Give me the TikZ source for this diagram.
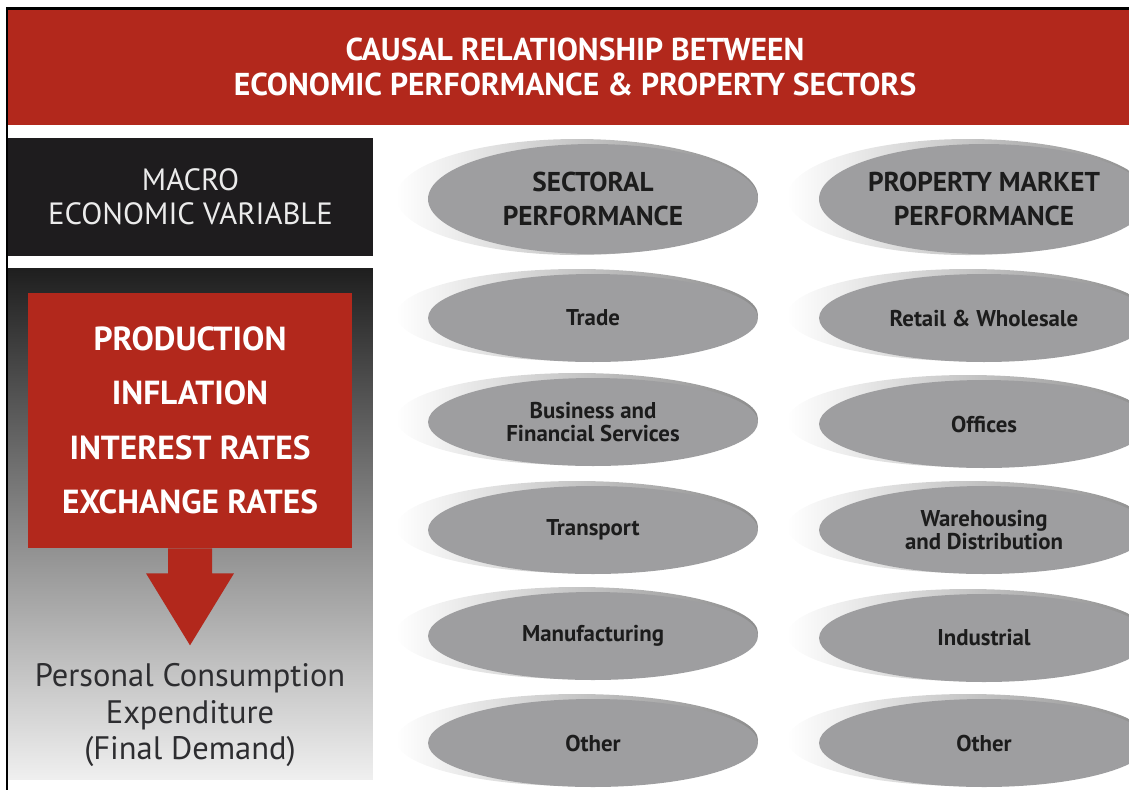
\documentclass[tikz,border=0pt]{standalone}
\usepackage{fontspec}
\setmainfont{PT Sans}
\usetikzlibrary{shapes.geometric, positioning}
\definecolor{causalRed}{RGB}{178,40,28}
\definecolor{macroBlack}{RGB}{30,28,30}
\definecolor{discFace}{RGB}{158,158,160}
\definecolor{discText}{RGB}{28,28,28}
\definecolor{demandText}{RGB}{45,45,48}
\tikzset{
    banner/.style={fill=causalRed, text=white, align=center,
        font=\bfseries\fontsize{18}{20}\selectfont},
    macrobox/.style={fill=macroBlack, text=white!92!black, align=center,
        font=\fontsize{17.5}{19.5}\selectfont},
    panel/.style={top color=black!88, middle color=black!55, bottom color=black!6},
    varbox/.style={fill=causalRed, text=white, align=center,
        font=\bfseries\fontsize{19}{31}\selectfont},
    demand/.style={text=demandText, align=center,
        font=\fontsize{18.5}{21}\selectfont},
    discbase/.style={left color=white, right color=black!45},
    discface/.style={ellipse, fill=discFace, text=discText, align=center, inner sep=0pt},
    headface/.style={discface, minimum width=6.6cm, minimum height=2.2cm,
        font=\bfseries\fontsize{15.5}{19.5}\selectfont},
    itemface/.style={discface, minimum width=6.6cm, minimum height=1.76cm,
        font=\bfseries\fontsize{13}{13.5}\selectfont}
}

\begin{document}
\begin{tikzpicture}[x=0.02cm, y=-0.02cm]
    \useasboundingbox (0,0) rectangle (1129,789);
    \clip (0,0) rectangle (1129,789);

    % Title banner
    \node[banner, minimum width=22.68cm, minimum height=2.34cm] (title) at (575,67)
        {CAUSAL RELATIONSHIP BETWEEN\\ECONOMIC PERFORMANCE \& PROPERTY SECTORS};

    % Left column
    \node[macrobox, minimum width=7.3cm, minimum height=2.36cm] (macro) at (190.5,197)
        {MACRO\\ECONOMIC VARIABLE};
    \node[panel, minimum width=7.3cm, minimum height=10.24cm] (panel) at (190.5,524) {};
    \node[varbox, minimum width=6.48cm, minimum height=5.1cm] (vars) at (190,420.5)
        {PRODUCTION\\INFLATION\\INTEREST RATES\\EXCHANGE RATES};
    \fill[causalRed] (vars.south) ++(-22,0) -- ++(0,25) -- ++(-22,0) -- ++(44,72)
        -- ++(44,-72) -- ++(-22,0) -- ++(0,-25) -- cycle;
    \node[demand] (demand) at (190,715)
        {Personal Consumption\\Expenditure\\(Final Demand)};

    % Column headers
    \shade[discbase] (577,197) ellipse (181 and 58);
    \node[headface] (sectoral) at (593,199) {SECTORAL\\PERFORMANCE};
    \shade[discbase] (968,197) ellipse (181 and 58);
    \node[headface] (property) at (984,199) {PROPERTY MARKET\\PERFORMANCE};

    % Sector discs
    \foreach \ty/\dname/\dtext in {320/trade/Trade,
            424/business/{Business and\\Financial Services},
            532/transport/Transport, 638/manufacturing/Manufacturing,
            745/othersector/Other} {
        \shade[discbase] (577,\ty-5) ellipse (181 and 46);
        \node[itemface] (\dname) at (593,\ty-2) {\dtext};
    }

    % Property discs
    \foreach \ty/\dname/\dtext in {320/retail/Retail \& Wholesale,
            426/offices/Offices,
            532/warehousing/{Warehousing\\and Distribution},
            640/industrial/Industrial, 745/otherproperty/Other} {
        \shade[discbase] (968,\ty-5) ellipse (181 and 46);
        \node[itemface] (\dname) at (984,\ty-2) {\dtext};
    }

    % Frame
    \draw[line width=0.06cm] (7,800) -- (7,8) -- (1140,8);
\end{tikzpicture}
\end{document}
